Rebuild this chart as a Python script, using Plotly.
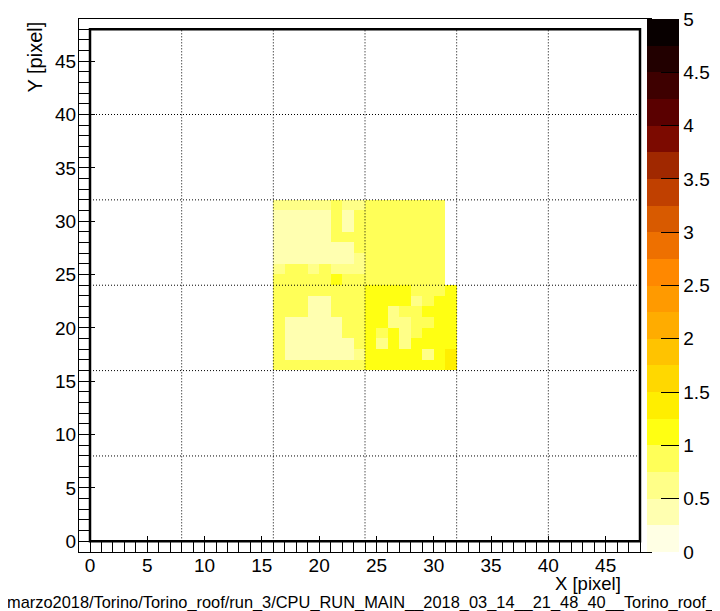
import numpy as np
import plotly.graph_objects as go

# ---------------- data ----------------
NBINS = 48
# blocks: rows listed top (higher y) -> bottom, columns left -> right
# top-left block: x 16..23, y 31..24
block_tl = [
    [0.50, 0.50, 0.50, 0.50, 0.50, 0.80, 0.50, 0.55],
    [0.45, 0.45, 0.45, 0.45, 0.45, 0.80, 0.45, 0.80],
    [0.45, 0.45, 0.45, 0.45, 0.45, 0.80, 0.45, 0.80],
    [0.45, 0.45, 0.45, 0.45, 0.45, 0.80, 0.80, 0.80],
    [0.45, 0.45, 0.45, 0.45, 0.45, 0.45, 0.45, 0.80],
    [0.45, 0.45, 0.45, 0.45, 0.45, 0.45, 0.45, 0.70],
    [0.50, 0.80, 0.80, 0.50, 0.80, 0.55, 0.55, 0.70],
    [0.80, 0.80, 0.80, 0.80, 0.85, 1.00, 0.85, 0.80],
]
# top-right block: x 24..31, y 31..24
block_tr = [
    [0.80, 0.80, 0.80, 0.80, 0.80, 0.80, 0.80, 0.0],
    [0.80, 0.80, 0.80, 0.80, 0.80, 0.80, 0.80, 0.0],
    [0.90, 0.80, 0.80, 0.80, 0.80, 0.80, 0.80, 0.0],
    [0.80, 0.80, 0.80, 0.80, 0.80, 0.80, 0.80, 0.0],
    [0.80, 0.80, 0.80, 0.80, 0.80, 0.80, 0.80, 0.0],
    [0.90, 0.80, 0.80, 0.80, 0.80, 0.80, 0.80, 0.0],
    [0.80, 0.80, 0.80, 0.80, 0.80, 0.80, 0.80, 0.0],
    [0.80, 0.80, 0.80, 0.80, 0.80, 0.80, 0.80, 0.0],
]
# bottom-left block: x 16..23, y 23..16
block_bl = [
    [0.80, 0.85, 0.85, 0.80, 0.80, 0.85, 0.80, 0.80],
    [0.80, 0.80, 0.80, 0.45, 0.45, 0.80, 0.80, 0.80],
    [0.80, 0.80, 0.80, 0.45, 0.45, 0.80, 0.80, 0.80],
    [0.80, 0.45, 0.45, 0.45, 0.45, 0.45, 0.80, 0.80],
    [0.80, 0.45, 0.45, 0.45, 0.45, 0.45, 0.80, 0.80],
    [0.80, 0.45, 0.45, 0.45, 0.45, 0.45, 0.45, 0.80],
    [0.80, 0.45, 0.45, 0.45, 0.45, 0.45, 0.45, 0.70],
    [0.80, 0.80, 0.80, 0.80, 0.80, 0.80, 0.80, 0.80],
]
# bottom-right block: x 24..31, y 23..16
block_br = [
    [1.10, 1.10, 1.00, 1.00, 0.90, 0.90, 0.90, 1.00],
    [1.10, 1.00, 1.00, 1.00, 0.70, 0.90, 1.00, 1.00],
    [1.00, 1.00, 0.60, 0.90, 0.90, 1.00, 1.00, 1.10],
    [1.00, 1.00, 0.60, 0.70, 0.90, 0.90, 1.00, 1.10],
    [1.00, 0.90, 1.00, 0.60, 0.90, 1.00, 1.00, 1.10],
    [1.00, 0.60, 1.00, 0.60, 1.00, 1.00, 1.10, 1.20],
    [1.00, 1.00, 1.00, 1.00, 1.00, 0.60, 1.10, 1.30],
    [1.10, 1.10, 1.10, 1.10, 1.10, 1.10, 1.20, 1.35],
]
block_origins = {"tl": (16, 24), "tr": (24, 24), "bl": (16, 16), "br": (24, 16)}
blocks = {"tl": block_tl, "tr": block_tr, "bl": block_bl, "br": block_br}

x_ticks = [0, 5, 10, 15, 20, 25, 30, 35, 40, 45]
y_ticks = [0, 5, 10, 15, 20, 25, 30, 35, 40, 45]
grid_vals = [8, 16, 24, 32, 40]
cbar_ticks = [0, 0.5, 1, 1.5, 2, 2.5, 3, 3.5, 4, 4.5, 5]
cbar_text = ["0", "0.5", "1", "1.5", "2", "2.5", "3", "3.5", "4", "4.5", "5"]

palette = [
    "#FFFFE4", "#FFFFB0", "#FFFF88", "#FFFF58", "#FFFF12",
    "#FFEE00", "#FFD800", "#FFC300", "#FFAC00", "#FF9A00",
    "#FF8800", "#EE7000", "#D85A00", "#C04000", "#A02800",
    "#7C0A00", "#5A0000", "#3E0000", "#220000", "#080000",
]

# ---------------- build histogram ----------------
z = np.full((NBINS, NBINS), np.nan)
for key, blk in blocks.items():
    x0, y0 = block_origins[key]
    nrow = len(blk)
    for r, row in enumerate(blk):
        yy = y0 + (nrow - 1 - r)
        for c, v in enumerate(row):
            if v > 0:
                z[yy, x0 + c] = v

centers = np.arange(NBINS) + 0.5
colorscale = []
n = len(palette)
for i, col in enumerate(palette):
    colorscale.append([i / n, col])
    colorscale.append([(i + 1) / n, col])

FONT = "Liberation Sans, Arial, Helvetica, sans-serif"

W, H = 720, 611
L, R, T, B = 71, 643, 11, 544   # plot frame in pixels
PW, PH = R - L, B - T

fig = go.Figure()
fig.add_trace(go.Heatmap(
    x=centers, y=centers, z=z, zmin=0, zmax=5,
    colorscale=colorscale, hoverongaps=False,
    colorbar=dict(
        x=(639 - L) / PW, xanchor="left", xpad=0,
        y=0.5, yanchor="middle", len=1, lenmode="fraction", ypad=0,
        thickness=32, thicknessmode="pixels",
        outlinewidth=0,
        tickvals=cbar_ticks, ticktext=cbar_text,
        ticks="inside", ticklen=18, tickwidth=1, tickcolor="black",
        tickfont=dict(family=FONT, size=19, color="black"),
    ),
))

DOT = "1px,2px"
shapes = []
for g in grid_vals:
    shapes.append(dict(type="line", xref="x", yref="y", x0=g, x1=g, y0=0, y1=NBINS,
                       line=dict(color="black", width=1, dash=DOT), layer="above"))
    shapes.append(dict(type="line", xref="x", yref="y", x0=0, x1=NBINS, y0=g, y1=g,
                       line=dict(color="black", width=1, dash=DOT), layer="above"))
shapes.append(dict(type="rect", xref="x", yref="y", x0=0, x1=NBINS, y0=0, y1=NBINS,
                   line=dict(color="black", width=2.5), layer="above"))

axis_common = dict(
    showgrid=False, zeroline=False, showline=True, linecolor="black", linewidth=1,
    mirror=True, ticks="inside", ticklen=16, tickwidth=1, tickcolor="black",
    tickfont=dict(family=FONT, size=19, color="black"), automargin=False,
    minor=dict(ticks="inside", ticklen=11, tickwidth=1, tickcolor="black", dtick=1, tick0=0, showgrid=False),
)

fig.update_layout(
    width=W, height=H,
    margin=dict(l=L, r=W - R, t=T, b=H - B, autoexpand=False),
    paper_bgcolor="white", plot_bgcolor="white",
    xaxis=dict(range=[-0.96, 48.96], tickvals=x_ticks, ticktext=[str(v) for v in x_ticks],
               ticklabelstandoff=-4, **axis_common),
    yaxis=dict(range=[-1.0, 48.95], tickvals=y_ticks, ticktext=[str(v) for v in y_ticks],
               ticklabelstandoff=-2, **axis_common),
    shapes=shapes,
    annotations=[
        dict(text="X [pixel]", xref="paper", yref="paper", x=(615 - L) / PW, y=-(575 - B) / PH,
             xanchor="right", yanchor="middle", showarrow=False,
             font=dict(family=FONT, size=18.5, color="black")),
        dict(text="Y [pixel]", xref="paper", yref="paper", x=-(L - 26) / PW, y=1 + (T - 12) / PH,
             xanchor="center", yanchor="top", textangle=-90, showarrow=False,
             font=dict(family=FONT, size=20, color="black")),
        dict(text="marzo2018/Torino/Torino_roof/run_3/CPU_RUN_MAIN__2018_03_14__21_48_40__Torino_roof_",
             xref="paper", yref="paper", x=-(L + 3) / PW, y=-(594 - B) / PH,
             xanchor="left", yanchor="middle", showarrow=False,
             font=dict(family=FONT, size=16.4, color="black")),
    ],
)

fig.write_html("out.html")
